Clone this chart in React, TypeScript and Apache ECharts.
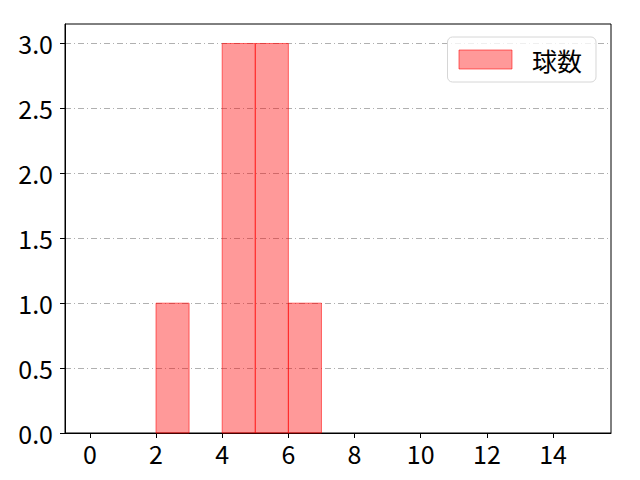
import { useEffect, useRef } from "react"
import * as echarts from "echarts"

// histogram bins: [start, end, count]
const binStarts = [2, 4, 5, 6]
const binEnds = [3, 5, 6, 7]
const counts = [1, 3, 3, 1]
const xTicks = [0, 2, 4, 6, 8, 10, 12, 14]
const yTicks = [0, 0.5, 1, 1.5, 2, 2.5, 3]
const seriesName = "球数"

const FONT = "'Noto Sans CJK JP', 'Noto Sans', sans-serif"
const FILL = "rgba(255, 0, 0, 0.4)"
const EDGE = "rgba(255, 0, 0, 0.55)"

export default function App() {
  const chartRef = useRef<HTMLDivElement>(null)

  useEffect(() => {
    document.body.style.margin = "0"
    if (!chartRef.current) return
    const chart = echarts.init(chartRef.current, null, { renderer: "svg" })

    const data = binStarts.map((s, i) => [s, binEnds[i], counts[i]])

    const option = {
      animation: false,
      backgroundColor: "#ffffff",
      textStyle: { fontFamily: FONT },
      grid: {
        left: 65,
        right: 29,
        top: 24,
        bottom: 47,
        show: true,
        borderColor: "#000000",
        borderWidth: 1,
        containLabel: false,
      },
      legend: {
        right: 44,
        top: 37,
        orient: "vertical",
        padding: [10, 14, 10, 11],
        backgroundColor: "rgba(255,255,255,0.8)",
        borderColor: "#d6d6d6",
        borderWidth: 1,
        borderRadius: 5,
        itemWidth: 53,
        itemHeight: 19,
        textStyle: {
          fontFamily: FONT,
          fontSize: 25,
          color: "#000000",
          padding: [0, 0, 0, 15],
        },
        data: [
          {
            name: seriesName,
            icon: "rect",
            itemStyle: { color: FILL, borderColor: EDGE, borderWidth: 1 },
          },
        ],
      },
      xAxis: {
        type: "value",
        min: -0.75,
        max: 15.75,
        splitLine: { show: false },
        axisLine: { show: true, onZero: false, lineStyle: { color: "#000000", width: 1 } },
        axisTick: {
          show: true,
          length: 5,
          customValues: xTicks,
          lineStyle: { color: "#000000" },
        },
        axisLabel: {
          customValues: xTicks,
          fontFamily: FONT,
          fontSize: 25,
          color: "#000000",
          margin: 7,
        },
      },
      yAxis: {
        type: "value",
        min: 0,
        max: 3.15,
        interval: 0.5,
        splitLine: {
          show: true,
          lineStyle: { color: "#b0b0b0", width: 1, type: [6, 3, 1, 3] },
        },
        axisLine: { show: true, onZero: false, lineStyle: { color: "#000000", width: 1 } },
        axisTick: {
          show: true,
          length: 5,
          customValues: yTicks,
          lineStyle: { color: "#000000" },
        },
        axisLabel: {
          customValues: yTicks,
          formatter: (v: number) => v.toFixed(1),
          fontFamily: FONT,
          fontSize: 25,
          color: "#000000",
          margin: 12,
        },
      },
      series: [
        {
          name: seriesName,
          type: "custom",
          itemStyle: { color: FILL },
          encode: { x: [0, 1], y: 2 },
          data,
          renderItem: (_params: any, api: any) => {
            const p0 = api.coord([api.value(0), 0])
            const p1 = api.coord([api.value(1), api.value(2)])
            return {
              type: "rect",
              shape: {
                x: p0[0],
                y: p1[1],
                width: p1[0] - p0[0],
                height: p0[1] - p1[1],
              },
              style: { fill: FILL, stroke: EDGE, lineWidth: 1 },
            }
          },
        },
      ],
    }

    chart.setOption(option)

    return () => {
      chart.dispose()
    }
  }, [])

  return <div ref={chartRef} style={{ width: 640, height: 480 }} />
}
